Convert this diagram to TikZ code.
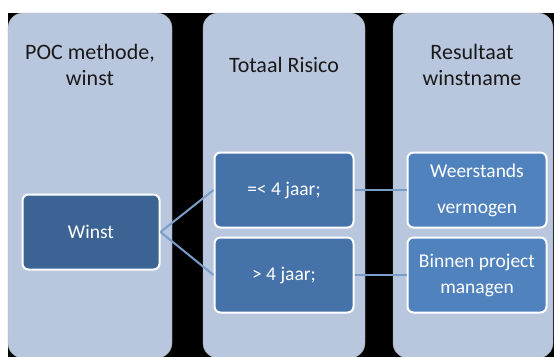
\documentclass[tikz,border=0pt]{standalone}
\usepackage{fontspec}
\setmainfont{Carlito}
\usetikzlibrary{positioning}

\definecolor{colfill}{RGB}{185,199,222}
\definecolor{boxdark}{RGB}{59,100,148}
\definecolor{boxmid}{RGB}{69,114,168}
\definecolor{boxlight}{RGB}{80,130,190}
\definecolor{linkblue}{RGB}{122,156,200}

\begin{document}
\begin{tikzpicture}[x=1pt, y=-1pt,
    column/.style={rectangle, rounded corners=15pt, fill=colfill,
                draw=black!35, line width=0.4pt, minimum height=345pt},
    head/.style={align=center, text=black!90, font=\fontsize{22}{26}\selectfont},
    box/.style={rectangle, rounded corners=6pt, draw=white, line width=2pt,
                minimum width=139pt, minimum height=75pt, text=white,
                align=center, font=\fontsize{19.5}{26}\selectfont},
    link/.style={draw=linkblue, line width=2pt},
]
\useasboundingbox (0,0) rectangle (554,356);
\fill[white] (0,0) rectangle (554,356);
\fill[black] (8,13) rectangle (554,370);

% --- Columns ---
\node[column, minimum width=164pt] (col1) at (90,185.5) {};
\node[column, minimum width=162pt] (col2) at (284,185.5) {};
\node[column, minimum width=160pt] (col3) at (473,185.5) {};

\node[head] (h1) at (90,65) {POC methode,\\winst};
\node[head] (h2) at (284,65) {Totaal Risico};
\node[head] (h3) at (472,65) {Resultaat\\winstname};

% --- Boxes ---
\node[box, fill=boxdark, minimum width=137pt] (winst) at (91,232) {Winst};
\node[box, fill=boxmid] (kort) at (284,190) {=< 4 jaar;};
\node[box, fill=boxmid] (lang) at (284,275) {> 4 jaar;};
\node[box, fill=boxlight] (weer) at (477,190) {Weerstands\\[10pt]vermogen};
\node[box, fill=boxlight] (binnen) at (477,275) {Binnen project\\managen};

% --- Links ---
\draw[link] (winst.east) -- (kort.west);
\draw[link] (winst.east) -- (lang.west);
\draw[link] (kort.east) -- (weer.west);
\draw[link] (lang.east) -- (binnen.west);

\end{tikzpicture}
\end{document}
